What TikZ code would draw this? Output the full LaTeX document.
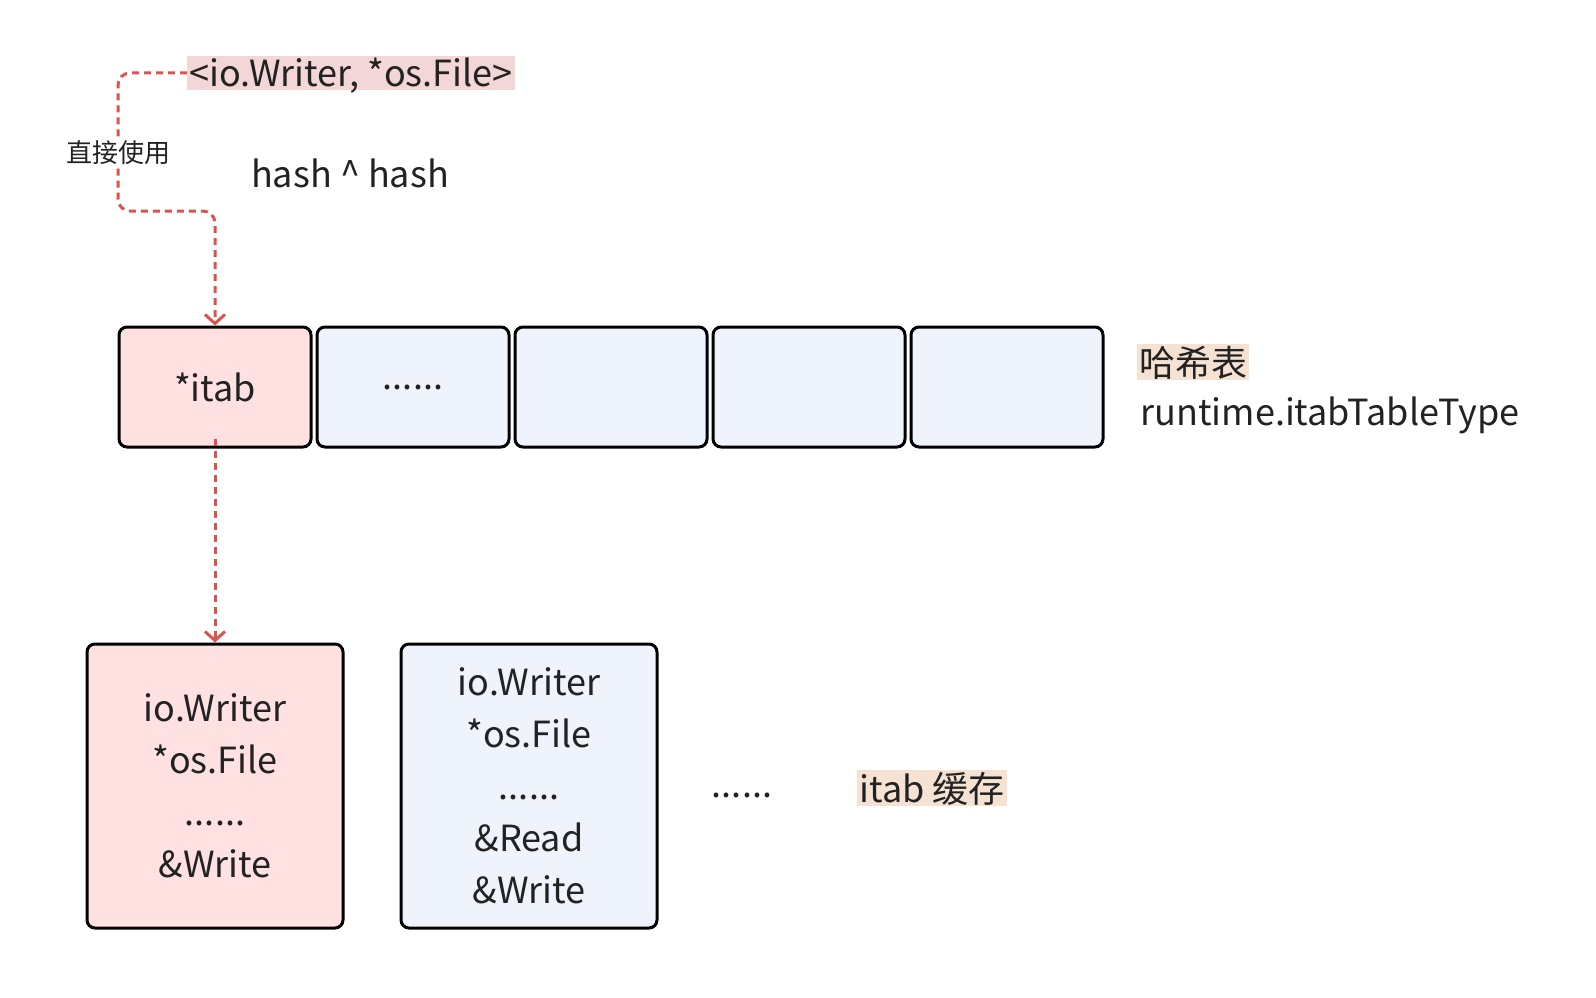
\documentclass[tikz,border=0pt]{standalone}
\usepackage{fontspec}
\setmainfont{Noto Sans CJK SC}
\usepackage{xcolor}
\definecolor{cellpink}{HTML}{FFE1E1}
\definecolor{cellblue}{HTML}{EEF3FC}
\definecolor{dashred}{HTML}{D9534F}
\definecolor{markpink}{HTML}{F3D6D6}
\definecolor{markbeige}{HTML}{F5E2D3}
\definecolor{ink}{HTML}{222222}
\usetikzlibrary{positioning, arrows.meta}

\begin{document}
\begin{tikzpicture}
[x=1pt, y=-1pt,
 every node/.style={text=ink, font=\fontsize{36}{52}\selectfont},
 cell/.style={draw=black, line width=3pt, rounded corners=8pt, fill=cellblue,
   minimum width=192pt, minimum height=120pt, inner sep=0pt},
 card/.style={draw=black, line width=3pt, rounded corners=8pt, fill=cellblue,
   minimum width=256pt, minimum height=284pt, align=center, inner sep=0pt},
 hilite/.style={inner sep=2pt, text depth=0.3ex},
 link/.style={draw=dashred, line width=3pt, dash pattern=on 7pt off 5pt,
   rounded corners=12pt},
 tip/.style={-{Straight Barb[length=9pt,width=20pt,line width=3pt]}},
]
\useasboundingbox (0,0) rectangle (1596,998);

% hash table row
\node[cell, fill=cellpink] (c0) at (215,387) {*itab};
\node[cell, right=3pt of c0] (c1) {......};
\node[cell, right=3pt of c1] (c2) {};
\node[cell, right=3pt of c2] (c3) {};
\node[cell, right=3pt of c3] (c4) {};
\node[hilite, fill=markbeige, anchor=west] (ht) at (1137,362) {哈希表};
\node[anchor=west] (htt) at (1137,415) {runtime.itabTableType};

% key and hash
\node[hilite, fill=markpink, anchor=west] (key) at (187,73) {<io.Writer, *os.File>};
\node (hash) at (350,173) {hash \^{} hash};
\node[font=\fontsize{26}{30}\selectfont] (use) at (118,153) {直接使用};

% itab cache
\node[card, fill=cellpink] (t0) at (215,786) {io.Writer\\*os.File\\......\\\&Write};
\node[card] (t1) at (529,786) {io.Writer\\*os.File\\......\\\&Read\\\&Write};
\node (more) at (742,795) {......};
\node[hilite, fill=markbeige] (cache) at (932,788) {itab 缓存};

% links
\draw[link] (key.west) -- (118,73) -- (use.north);
\draw[link, tip] (use.south) -- (118,211) -- (215,211) -- (c0.north);
\draw[link, tip] ([yshift=10pt]c0.south) -- (t0.north);
\end{tikzpicture}
\end{document}
